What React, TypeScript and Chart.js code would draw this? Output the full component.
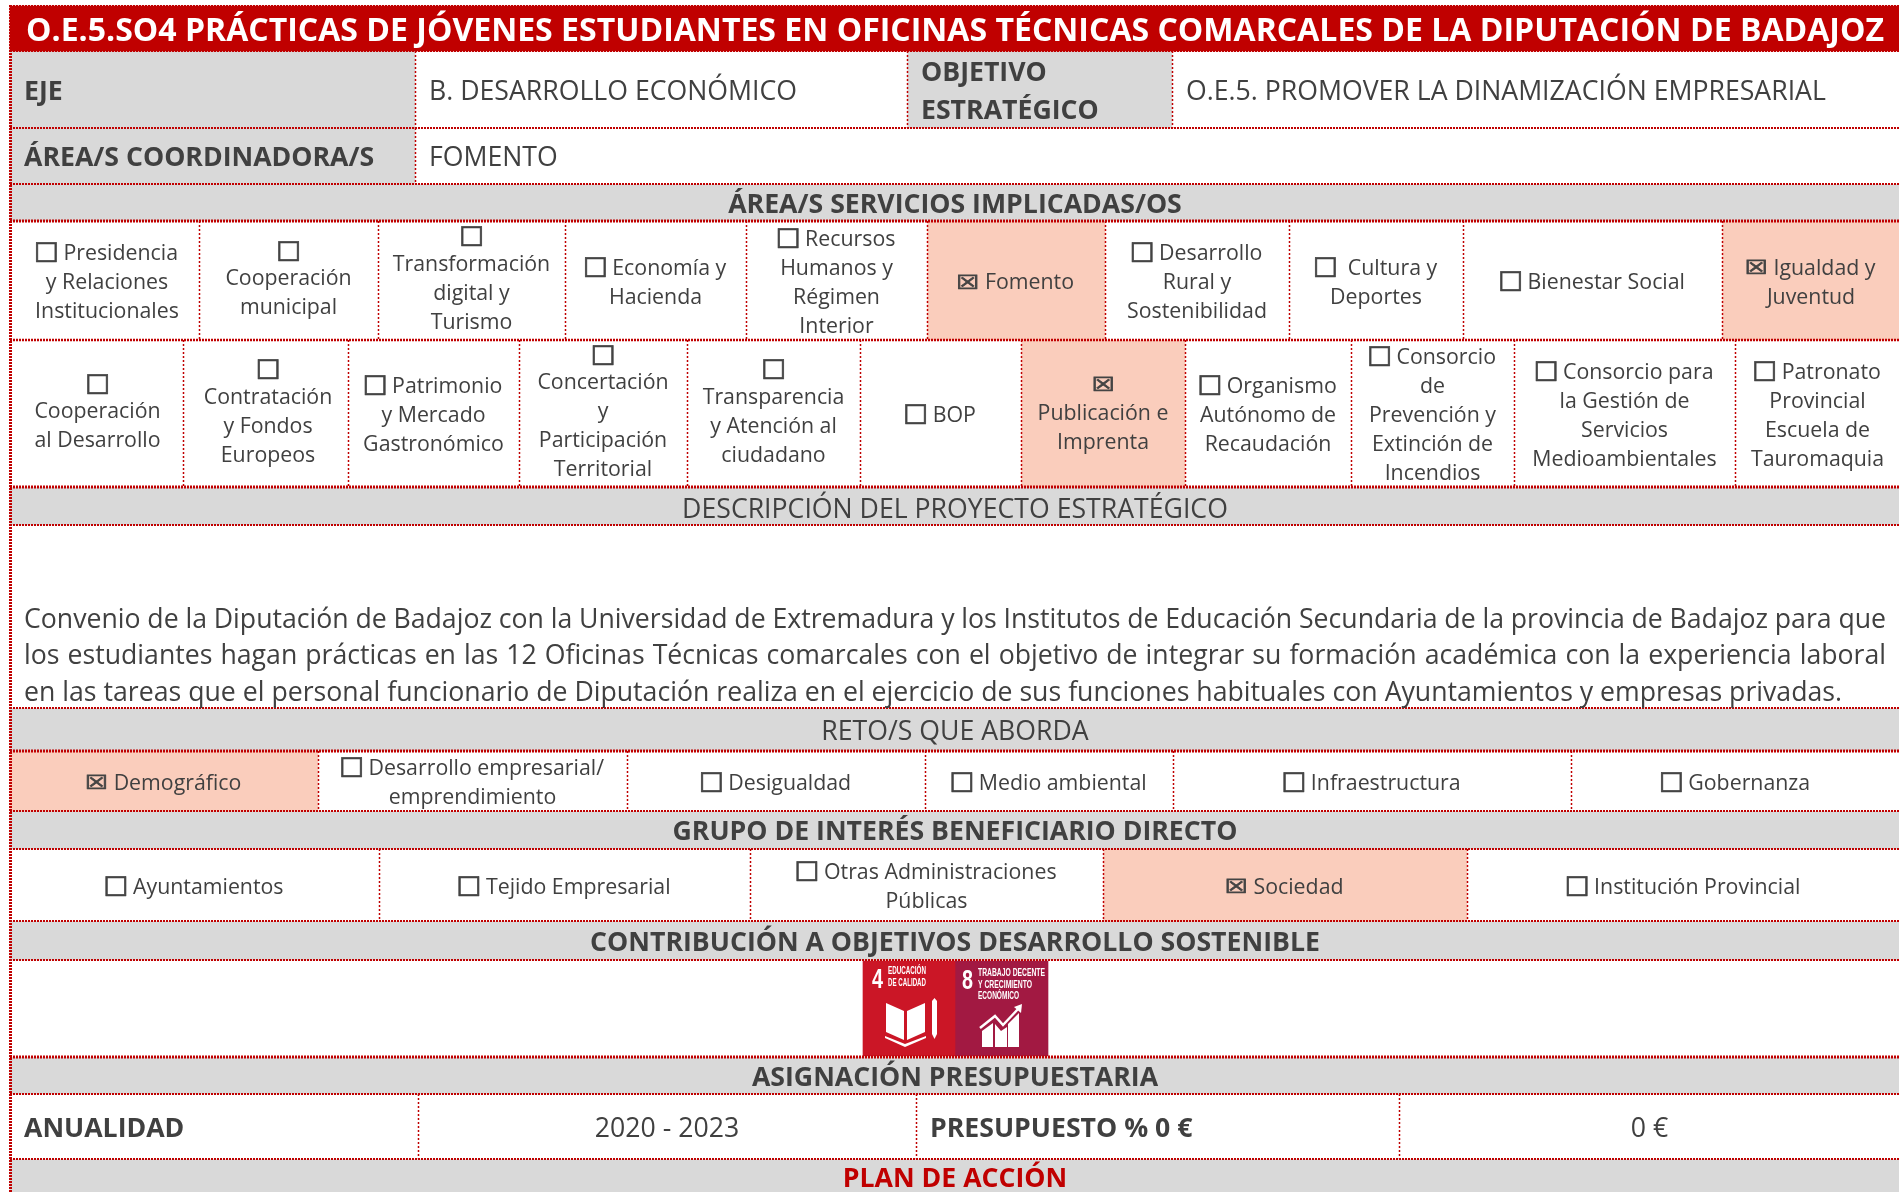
import React, { useEffect, useRef } from "react";
import { Chart, registerables } from "chart.js";

Chart.register(...registerables);

const tituloFicha = "O.E.5.SO4 PRÁCTICAS DE JÓVENES ESTUDIANTES EN OFICINAS TÉCNICAS COMARCALES DE LA DIPUTACIÓN DE BADAJOZ";
const filaEje = ["EJE", "B. DESARROLLO ECONÓMICO", "OBJETIVO\nESTRATÉGICO", "O.E.5. PROMOVER LA DINAMIZACIÓN EMPRESARIAL"];
const filaArea = ["ÁREA/S COORDINADORA/S", "FOMENTO"];
const serviciosUno = [
  ["☐Presidencia", "y Relaciones", "Institucionales"],
  ["☐", "Cooperación", "municipal"],
  ["☐", "Transformación", "digital y", "Turismo"],
  ["☐Economía y", "Hacienda"],
  ["☐Recursos", "Humanos y", "Régimen", "Interior"],
  ["☒ Fomento"],
  ["☐Desarrollo", "Rural y", "Sostenibilidad"],
  ["☐ Cultura y", "Deportes"],
  ["☐Bienestar Social"],
  ["☒ Igualdad y", "Juventud"],
];
const serviciosDos = [
  ["☐", "Cooperación", "al Desarrollo"],
  ["☐", "Contratación", "y Fondos", "Europeos"],
  ["☐Patrimonio", "y Mercado", "Gastronómico"],
  ["☐", "Concertación", "y", "Participación", "Territorial"],
  ["☐", "Transparencia", "y Atención al", "ciudadano"],
  ["☐BOP"],
  ["☒", "Publicación e", "Imprenta"],
  ["☐Organismo", "Autónomo de", "Recaudación"],
  ["☐Consorcio", "de", "Prevención y", "Extinción de", "Incendios"],
  ["☐Consorcio para", "la Gestión de", "Servicios", "Medioambientales"],
  ["☐Patronato", "Provincial", "Escuela de", "Tauromaquia"],
];
const descripcion = [
  "Convenio de la Diputación de Badajoz con la Universidad de Extremadura y los Institutos de Educación Secundaria de la provincia de Badajoz para que",
  "los estudiantes hagan prácticas en las 12 Oficinas Técnicas comarcales con el objetivo de integrar su formación académica con la experiencia laboral",
  "en las tareas que el personal funcionario de Diputación realiza en el ejercicio de sus funciones habituales con Ayuntamientos y empresas privadas.",
];
const retos = [["☒ Demográfico"], ["☐Desarrollo empresarial/", "emprendimiento"], ["☐Desigualdad"], ["☐Medio ambiental"], ["☐Infraestructura"], ["☐Gobernanza"]];
const beneficiarios = [["☐Ayuntamientos"], ["☐Tejido Empresarial"], ["☐Otras Administraciones", "Públicas"], ["☒ Sociedad"], ["☐Institución Provincial"]];
const encabezados = ["ÁREA/S SERVICIOS IMPLICADAS/OS", "DESCRIPCIÓN DEL PROYECTO ESTRATÉGICO", "RETO/S QUE ABORDA", "GRUPO DE INTERÉS BENEFICIARIO DIRECTO", "CONTRIBUCIÓN A OBJETIVOS DESARROLLO SOSTENIBLE", "ASIGNACIÓN PRESUPUESTARIA", "PLAN DE ACCIÓN"];
const filaAnual = ["ANUALIDAD", "2020 - 2023", "PRESUPUESTO % 0 €", "0 €"];
const ods = [
  { numero: "4", lineas: ["EDUCACIÓN", "DE CALIDAD"] },
  { numero: "8", lineas: ["TRABAJO DECENTE", "Y CRECIMIENTO", "ECONÓMICO"] },
];

// Layout of the sheet, in sheet units
const RED = "#C00000", GREY = "#D9D9D9", SALMON = "#FACDBC", WHITE = "#FFFFFF", INK = "#404040";
const FONT = '"Open Sans"';
const L = 10, R = 1900;
const rowEdges = [6, 51, 128, 184, 221, 340, 487, 525, 708, 751, 811, 849, 921, 960, 1057, 1094, 1159, 1211];
const edgeWidths = [2.2, 2, 2, 2, 3, 2.5, 3, 1.8, 1.8, 3, 1.8, 2.2, 2.2, 2.2, 2.8, 1.8, 2.2];
const colEdges: number[][] = [
  [L, R],
  [L, 415, 907, 1172, R],
  [L, 415, R],
  [L, R],
  [L, 199, 378, 565, 746, 927, 1105, 1289, 1463, 1722, R],
  [L, 183, 348, 519, 687, 860, 1021, 1185, 1351, 1514, 1735, R],
  [L, R],
  [L, R],
  [L, R],
  [L, 318, 627, 925, 1173, 1571, R],
  [L, R],
  [L, 379, 750, 1103, 1467, R],
  [L, R],
  [L, R],
  [L, R],
  [L, 418, 916, 1399, R],
  [L, R],
];
const isChecked = (c: string[] | undefined) => !!c && c[0].startsWith("☒");
const rowFills: ((i: number) => string)[] = [
  () => RED,
  (i) => (i % 2 === 0 ? GREY : WHITE),
  (i) => (i === 0 ? GREY : WHITE),
  () => GREY,
  (i) => (isChecked(serviciosUno[i]) ? SALMON : WHITE),
  (i) => (isChecked(serviciosDos[i]) ? SALMON : WHITE),
  () => GREY,
  () => WHITE,
  () => GREY,
  (i) => (isChecked(retos[i]) ? SALMON : WHITE),
  () => GREY,
  (i) => (isChecked(beneficiarios[i]) ? SALMON : WHITE),
  () => GREY,
  () => WHITE,
  () => GREY,
  () => WHITE,
  () => GREY,
];
const tileEdges = [863, 955, 1048];
const tileFills = ["#CB1626", "#A21942"];

function buildDatasets() {
  const sets: any[] = [];
  const addBar = (a: number, b: number, top: number, bottom: number, color: string) =>
    sets.push({ data: [{ x: (a + b) / 2, y: [top, bottom] }], barThickness: b - a, backgroundColor: color, borderWidth: 0, grouped: false });
  // Chart.js paints the first dataset last: the tiles go first so they stay on top
  for (let i = 0; i < tileFills.length; i++) addBar(tileEdges[i], tileEdges[i + 1], 961, 1056, tileFills[i]);
  colEdges.forEach((edges, r) => {
    for (let i = 0; i < edges.length - 1; i++) addBar(edges[i], edges[i + 1], rowEdges[r], rowEdges[r + 1], rowFills[r](i));
  });
  return sets;
}

const boxInk = "#444444";
function drawBox(ctx: CanvasRenderingContext2D, glyph: string, x: number, cy: number) {
  const checked = glyph === "☒";
  const w = checked ? 19 : 21, h = checked ? 15 : 21;
  ctx.save();
  ctx.font = `40px "DejaVu Sans"`;
  ctx.textAlign = "left";
  ctx.textBaseline = "alphabetic";
  const m = ctx.measureText(glyph);
  const gw = m.actualBoundingBoxLeft + m.actualBoundingBoxRight;
  const gh = m.actualBoundingBoxAscent + m.actualBoundingBoxDescent;
  ctx.translate(x, cy - h / 2);
  ctx.scale(w / gw, h / gh);
  ctx.fillStyle = boxInk;
  ctx.strokeStyle = boxInk;
  ctx.lineWidth = checked ? 1.5 : 1;
  ctx.fillText(glyph, m.actualBoundingBoxLeft, m.actualBoundingBoxAscent);
  ctx.strokeText(glyph, m.actualBoundingBoxLeft, m.actualBoundingBoxAscent);
  ctx.restore();
}

const CELL_FONT = `21.33px ${FONT}`;
function boxAdvance(g: string) { return g === "☒" ? 21.5 : 27.5; }

function drawCell(ctx: CanvasRenderingContext2D, lines: string[], cx: number, cy: number) {
  const lh = 29;
  ctx.font = CELL_FONT;
  ctx.fillStyle = INK;
  ctx.textBaseline = "middle";
  const leadBox = lines[0] === "☐" ? -4 : lines[0] === "☒" ? -2.5 : 0;
  lines.forEach((line, i) => {
    const y = cy + (i - (lines.length - 1) / 2) * lh;
    const first = line[0];
    const hasBox = first === "☐" || first === "☒";
    const rest = hasBox ? line.slice(1) : line;
    const tw = ctx.measureText(rest).width;
    const total = (hasBox ? (rest ? boxAdvance(first) : first === "☒" ? 19 : 21) : 0) + tw;
    let x = cx - total / 2;
    if (hasBox) {
      drawBox(ctx, first, x, y + (rest ? 1 : -0.5));
      x += boxAdvance(first);
    }
    ctx.textAlign = "left";
    if (rest) ctx.fillText(rest, x, y + 2.5 + leadBox);
  });
}

function dotted(ctx: CanvasRenderingContext2D, x1: number, y1: number, x2: number, y2: number, w: number, dash: number[]) {
  ctx.beginPath();
  ctx.lineWidth = w;
  ctx.strokeStyle = RED;
  ctx.setLineDash(dash);
  ctx.moveTo(x1, y1);
  ctx.lineTo(x2, y2);
  ctx.stroke();
  ctx.setLineDash([]);
}

const sheetPlugin = {
  id: "sheet",
  afterDatasetsDraw(chart: any) {
    const ctx: CanvasRenderingContext2D = chart.ctx;
    const X = (v: number) => chart.scales.x.getPixelForValue(v);
    const Y = (v: number) => chart.scales.y.getPixelForValue(v);
    const mid = (r: number) => Y((rowEdges[r] + rowEdges[r + 1]) / 2);
    const colMid = (r: number, i: number) => X((colEdges[r][i] + colEdges[r][i + 1]) / 2);
    ctx.save();

    // borders
    colEdges.forEach((edges, r) => {
      edges.slice(1, -1).forEach((e) => dotted(ctx, X(e) + 0.5, Y(rowEdges[r]), X(e) + 0.5, Y(rowEdges[r + 1]), 1.5, [2, 2]));
    });
    rowEdges.slice(0, -1).forEach((e, i) => dotted(ctx, X(L), Y(e), X(R), Y(e), edgeWidths[i], [2, 1]));
    dotted(ctx, X(L) + 0.5, Y(rowEdges[0] - 1), X(L) + 0.5, Y(1192), 3, [2, 1]);

    // title
    ctx.textBaseline = "middle";
    ctx.textAlign = "left";
    ctx.fillStyle = WHITE;
    ctx.font = `bold 32.04px ${FONT}`;
    ctx.fillText(tituloFicha, X(26), mid(0) + 3);

    // head rows
    const left = (text: string, x: number, y: number, bold: boolean) => {
      ctx.textAlign = "left";
      ctx.fillStyle = INK;
      ctx.font = `${bold ? "bold " : ""}26.67px ${FONT}`;
      const parts = text.split("\n");
      parts.forEach((p, i) => ctx.fillText(p, x, y + (i - (parts.length - 1) / 2) * 37.5));
    };
    const centre = (text: string, x: number, y: number, bold: boolean, color = INK) => {
      ctx.textAlign = "center";
      ctx.fillStyle = color;
      ctx.font = `${bold ? "bold " : ""}26.67px ${FONT}`;
      ctx.fillText(text, x, y);
    };
    filaEje.forEach((t, i) => left(t, X(colEdges[1][i] + 14), mid(1) + 3, i % 2 === 0));
    filaArea.forEach((t, i) => left(t, X(colEdges[2][i] + 14), mid(2) + 2.5, i === 0));
    const cx = X((L + R) / 2);
    const headerNudge: Record<number, number> = { 3: 2.5, 6: 4, 8: 3, 10: 2.5, 12: 2.5, 14: 2.5, 16: 2 };
    [3, 6, 8, 10, 12, 14, 16].forEach((r, i) => {
      centre(encabezados[i], cx, (r === 16 ? Y(1177) : mid(r)) + headerNudge[r], ![6, 8].includes(r), r === 16 ? RED : INK);
    });

    // service cells
    const cellRows: [number, string[][]][] = [[4, serviciosUno], [5, serviciosDos], [9, retos], [11, beneficiarios]];
    const cellNudge: Record<string, number> = { "4:0": 2.5, "5:0": 1, "5:1": 2.5 };
    cellRows.forEach(([r, cells]) => cells.forEach((c, i) => drawCell(ctx, c, colMid(r, i) + (cellNudge[`${r}:${i}`] || 0), mid(r))));

    // description, justified
    ctx.textBaseline = "middle";
    ctx.textAlign = "left";
    ctx.fillStyle = INK;
    ctx.font = `26.67px ${FONT}`;
    const lineY = [620, 656, 693];
    const lineEnd = [1886, 1886, 1842];
    descripcion.forEach((line, i) => {
      const ws: any = ctx;
      ws.wordSpacing = "0px";
      const natural = ctx.measureText(line).width;
      const gaps = line.split(" ").length - 1;
      ws.wordSpacing = `${(X(lineEnd[i]) - X(24) - natural) / gaps}px`;
      ctx.fillText(line, X(24), Y(lineY[i]));
      ws.wordSpacing = "0px";
    });

    // anualidad row
    left(filaAnual[0], X(colEdges[15][0] + 14), mid(15) + 3, true);
    centre(filaAnual[1], colMid(15, 1), mid(15) + 3, false);
    left(filaAnual[2], X(colEdges[15][2] + 14), mid(15) + 3, true);
    centre(filaAnual[3], colMid(15, 3), mid(15) + 3, false);

    // SDG tiles
    ctx.fillStyle = WHITE;
    ctx.textAlign = "left";
    ctx.textBaseline = "alphabetic";
    ctx.font = `bold 27px "Liberation Sans"`;
    ctx.fillText(ods[0].numero, X(872), Y(988), 11);
    ctx.fillText(ods[1].numero, X(962), Y(989), 11);
    ctx.font = `bold 10px "Liberation Sans"`;
    ods[0].lineas.forEach((t, i) => ctx.fillText(t, X(888), Y(974 + i * 11.5), 38));
    ods[1].lineas.forEach((t, i) => ctx.fillText(t, X(978), Y(976 + i * 11.5), [67, 54, 41][i]));

    const poly = (pts: number[][]) => {
      ctx.beginPath();
      pts.forEach((p, i) => (i ? ctx.lineTo(X(p[0]), Y(p[1])) : ctx.moveTo(X(p[0]), Y(p[1]))));
      ctx.closePath();
      ctx.fill();
    };
    // book
    poly([[886, 1003], [904, 1011], [904, 1040], [886, 1032]]);
    poly([[907, 1011], [925, 1003], [925, 1032], [907, 1040]]);
    poly([[885, 1036], [905, 1044], [926, 1036], [926, 1038], [905, 1047], [885, 1038]]);
    // pencil
    poly([[932, 1001], [934.5, 998], [937, 1001], [937, 1034], [934.5, 1039], [932, 1034]]);
    // growth bars
    poly([[982, 1031], [993, 1023], [993, 1047], [982, 1047]]);
    poly([[995, 1024], [1001, 1031], [1007, 1027], [1007, 1047], [995, 1047]]);
    poly([[1008, 1024], [1019, 1013], [1019, 1047], [1008, 1047]]);
    // growth arrow
    ctx.strokeStyle = WHITE;
    ctx.lineWidth = 2.5;
    ctx.beginPath();
    ctx.moveTo(X(980), Y(1028));
    ctx.lineTo(X(995), Y(1016));
    ctx.lineTo(X(1003), Y(1025));
    ctx.lineTo(X(1019), Y(1008));
    ctx.stroke();
    poly([[1022, 1004], [1021, 1013], [1014, 1007]]);

    ctx.restore();
  },
};

export default function App() {
  const ref = useRef<HTMLCanvasElement>(null);
  useEffect(() => {
    const chart = new Chart(ref.current as HTMLCanvasElement, {
      type: "bar",
      data: { datasets: buildDatasets() },
      options: {
        animation: false,
        responsive: false,
        devicePixelRatio: 1,
        layout: { padding: 0 },
        events: [],
        plugins: { legend: { display: false }, tooltip: { enabled: false }, title: { display: false } },
        scales: {
          x: { type: "linear", min: 0, max: 1899, display: false, offset: false },
          y: { type: "linear", min: 0, max: 1192, reverse: true, display: false },
        },
      },
      plugins: [sheetPlugin],
    } as any);
    return () => chart.destroy();
  }, []);
  return <canvas ref={ref} width={1899} height={1192} style={{ position: "absolute", left: 0, top: 0, display: "block" }} />;
}
